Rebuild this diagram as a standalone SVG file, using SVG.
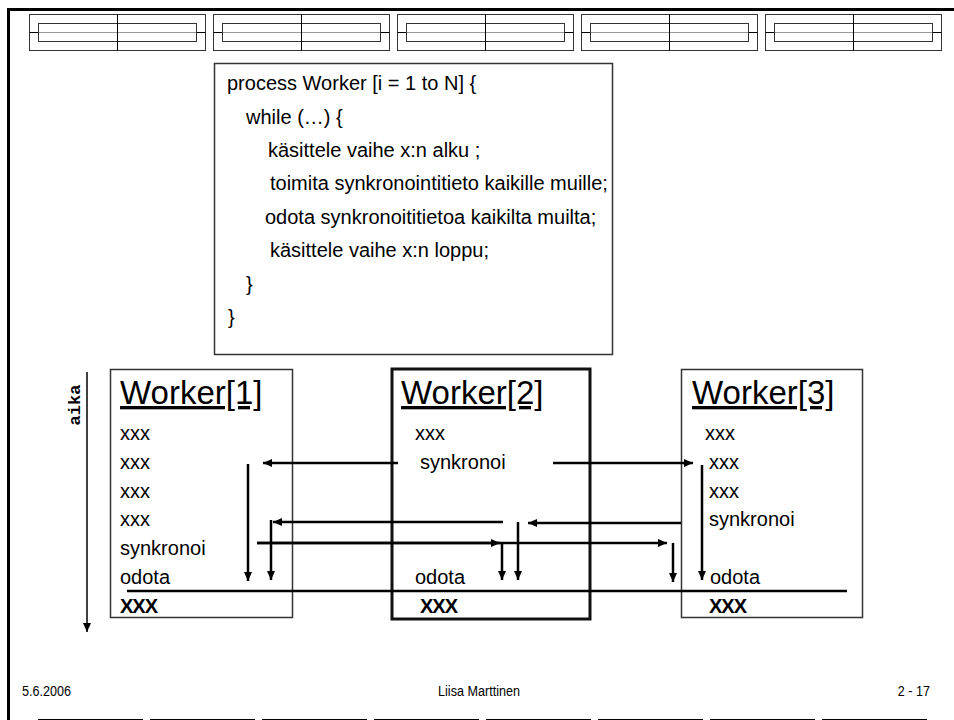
<svg xmlns="http://www.w3.org/2000/svg" xmlns:xlink="http://www.w3.org/1999/xlink" width="954" height="720" viewBox="0 0 954 720">
<style>
  .frame{fill:none;stroke:#000;stroke-width:3}
  .hbo{fill:none;stroke:#333;stroke-width:1}
  .hmid{stroke:#999;stroke-width:1}
  .hstub{stroke:#000;stroke-width:1}
  .box{fill:#fff;stroke:#333;stroke-width:1.5}
  .bold-box{fill:#fff;stroke:#111;stroke-width:3}
  .code{font-family:"Liberation Sans",Arial,sans-serif;font-size:20px;fill:#000}
  .title{font-family:"Liberation Sans",Arial,sans-serif;font-size:33px;fill:#000;text-decoration:underline}
  .item{font-family:"Liberation Sans",Arial,sans-serif;font-size:20px;fill:#000}
  .itemb{font-family:"Liberation Sans",Arial,sans-serif;font-size:20px;font-weight:bold;fill:#000;letter-spacing:-1px}
  .conn{fill:none;stroke:#000;stroke-width:2.5}
  .foot{font-family:"Liberation Sans",Arial,sans-serif;font-size:15px;fill:#000}
  .aika{font-family:"Liberation Mono","Courier New",monospace;font-size:17px;font-weight:bold;fill:#000}
  .dash{stroke:#000;stroke-width:1}
</style>
<defs>
  <marker id="ah" markerUnits="userSpaceOnUse" markerWidth="9" markerHeight="8" refX="9" refY="4" orient="auto">
    <path d="M0,0 L9,4 L0,8 z" fill="#000"/>
  </marker>
  <g id="hb">
    <rect class="hbo" x="0.5" y="14.5" width="176" height="36"/>
    <rect class="hbo" x="9.5" y="23.5" width="158" height="18"/>
    <line class="hmid" x1="9.5" y1="32.5" x2="167.5" y2="32.5"/>
    <line class="hstub" x1="0.5" y1="32.5" x2="9.5" y2="32.5"/>
    <line class="hstub" x1="167.5" y1="32.5" x2="176.5" y2="32.5"/>
    <line class="hstub" x1="88.5" y1="14.5" x2="88.5" y2="50.5"/>
  </g>
</defs>

<g id="frame">
  <path class="frame" d="M8.5,720 V9.5 H954"/>
</g>

<g id="header">
  <use xlink:href="#hb" x="29" y="0"/>
  <use xlink:href="#hb" x="213" y="0"/>
  <use xlink:href="#hb" x="397" y="0"/>
  <use xlink:href="#hb" x="581" y="0"/>
  <use xlink:href="#hb" x="765" y="0"/>
</g>

<g id="code-box">
  <rect class="box" x="214.5" y="63.5" width="398" height="291"/>
  <text class="code" x="227" y="90">process Worker [i = 1 to N] {</text>
  <text class="code" x="246" y="124">while (…)  {</text>
  <text class="code" x="268" y="157">käsittele vaihe x:n alku ;</text>
  <text class="code" x="270" y="190">toimita synkronointitieto kaikille muille;</text>
  <text class="code" x="265" y="224">odota synkronoititietoa kaikilta muilta;</text>
  <text class="code" x="270" y="257">käsittele vaihe x:n loppu;</text>
  <text class="code" x="246" y="291">}</text>
  <text class="code" x="228" y="324">}</text>
</g>

<g id="worker1">
  <rect class="box" x="110.5" y="369.5" width="182" height="248"/>
  <text class="title" x="120" y="404">Worker[1]</text>
  <text class="item" x="120" y="440">xxx</text>
  <text class="item" x="120" y="469">xxx</text>
  <text class="item" x="120" y="498">xxx</text>
  <text class="item" x="120" y="526">xxx</text>
  <text class="item" x="120" y="555">synkronoi</text>
  <text class="item" x="120" y="584">odota</text>
  <text class="itemb" x="120" y="613">XXX</text>
</g>

<g id="worker2">
  <rect class="bold-box" x="392" y="369" width="198" height="250"/>
  <text class="title" x="401" y="404">Worker[2]</text>
  <text class="item" x="415" y="440">xxx</text>
  <text class="item" x="420" y="469">synkronoi</text>
  <text class="item" x="415" y="584">odota</text>
  <text class="itemb" x="420" y="613">XXX</text>
</g>

<g id="worker3">
  <rect class="box" x="681.5" y="369.5" width="181" height="248"/>
  <text class="title" x="692" y="404">Worker[3]</text>
  <text class="item" x="705" y="440">xxx</text>
  <text class="item" x="709" y="469">xxx</text>
  <text class="item" x="709" y="498">xxx</text>
  <text class="item" x="709" y="526">synkronoi</text>
  <text class="item" x="710" y="584">odota</text>
  <text class="itemb" x="709" y="613">XXX</text>
</g>

<g id="time-axis">
  <text class="aika" transform="translate(80,405) rotate(-90)" text-anchor="middle">aika</text>
  <line class="conn" x1="87" y1="372" x2="87" y2="632" marker-end="url(#ah)" style="stroke-width:1.5"/>
</g>

<g id="connectors">
  <line class="conn" x1="398" y1="463" x2="263" y2="463" marker-end="url(#ah)"/>
  <line class="conn" x1="553" y1="463" x2="693" y2="463" marker-end="url(#ah)"/>
  <line class="conn" x1="248" y1="464" x2="248" y2="581" marker-end="url(#ah)"/>
  <line class="conn" x1="681" y1="523" x2="528" y2="523" marker-end="url(#ah)"/>
  <line class="conn" x1="702" y1="465" x2="702" y2="580" marker-end="url(#ah)"/>
  <line class="conn" x1="503" y1="522" x2="273" y2="522" marker-end="url(#ah)"/>
  <line class="conn" x1="518" y1="522" x2="518" y2="580" marker-end="url(#ah)"/>
  <line class="conn" x1="271" y1="520" x2="271" y2="580" marker-end="url(#ah)"/>
  <line class="conn" x1="257" y1="543" x2="667" y2="543" marker-end="url(#ah)"/>
  <line class="conn" x1="257" y1="543" x2="500" y2="543" marker-end="url(#ah)"/>
  <line class="conn" x1="502" y1="543" x2="502" y2="580" marker-end="url(#ah)"/>
  <line class="conn" x1="673" y1="543" x2="673" y2="582" marker-end="url(#ah)"/>
  <line class="conn" x1="127" y1="591" x2="847" y2="591"/>
</g>

<g id="footer">
  <text class="foot" transform="translate(22,696) scale(0.84,1)">5.6.2006</text>
  <text class="foot" transform="translate(479,696) scale(0.84,1)" text-anchor="middle">Liisa Marttinen</text>
  <text class="foot" transform="translate(930,696) scale(0.84,1)" text-anchor="end">2 - 17</text>
  <g class="dash">
    <line x1="38" y1="719.5" x2="143" y2="719.5"/>
    <line x1="150" y1="719.5" x2="255" y2="719.5"/>
    <line x1="262" y1="719.5" x2="367" y2="719.5"/>
    <line x1="374" y1="719.5" x2="479" y2="719.5"/>
    <line x1="486" y1="719.5" x2="591" y2="719.5"/>
    <line x1="598" y1="719.5" x2="703" y2="719.5"/>
    <line x1="710" y1="719.5" x2="815" y2="719.5"/>
    <line x1="822" y1="719.5" x2="927" y2="719.5"/>
  </g>
</g>
</svg>
